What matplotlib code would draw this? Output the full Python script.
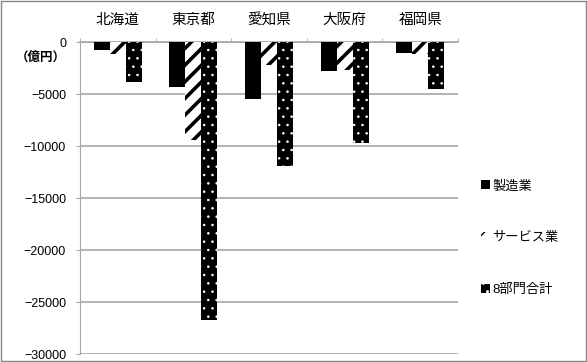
import numpy as np
import matplotlib
matplotlib.use('Agg')
import matplotlib.pyplot as plt
from matplotlib.patches import Rectangle

plt.rcParams['font.family'] = ['Liberation Sans', 'Noto Sans CJK JP']

# data (億円)
prefs = ['北海道', '東京都', '愛知県', '大阪府', '福岡県']
series_names = ['製造業', 'サービス業', '8部門合計']
manufacturing = [-700, -4300, -5450, -2700, -1000]
services = [-1150, -9400, -2200, -2650, -1150]
total8 = [-3850, -26700, -11900, -9700, -4450]

fig = plt.figure(figsize=(5.87, 3.62), dpi=100)
ax = fig.add_axes([80/587, 1 - 354/362, 378/587, (354 - 42.5)/362])

x = np.arange(len(prefs))
w = 0.212
ax.bar(x - w, manufacturing, w, color='black', linewidth=0, label=series_names[0], zorder=3)
with plt.rc_context({'hatch.linewidth': 2.6}):
    b2 = ax.bar(x, services, w, color='white', edgecolor='black', hatch='//', linewidth=0,
                label=series_names[1], zorder=3)
with plt.rc_context({'hatch.linewidth': 0.6}):
    b3 = ax.bar(x + w, total8, w, color='black', edgecolor='white', hatch='..', linewidth=0,
                label=series_names[2], zorder=3)
for p in b2:
    if hasattr(p, 'set_hatch_linewidth'):
        p.set_hatch_linewidth(2.6)
for p in b3:
    if hasattr(p, 'set_hatch_linewidth'):
        p.set_hatch_linewidth(0.6)

ax.set_xlim(-0.5, len(prefs) - 0.5)
ax.set_ylim(-30000, 0)
ax.set_yticks(np.arange(-30000, 1, 5000))
ax.yaxis.grid(True, color='#a6a6a6', linewidth=1.2, zorder=0)

gray = '#a6a6a6'
ax.spines['right'].set_visible(False)
ax.spines['bottom'].set_visible(False)
ax.spines['left'].set_color(gray)
ax.spines['top'].set_color(gray)
ax.spines['top'].set_linewidth(1.2)

# categories along the top
ax.xaxis.tick_top()
ax.set_xticks(x)
ax.set_xticklabels(prefs)
ax.set_xticks(np.arange(-0.5, len(prefs), 1), minor=True)
ax.tick_params(axis='x', which='major', length=0, pad=11, labelsize=10.5)
ax.tick_params(axis='x', which='minor', length=3, color=gray, direction='out')
ax.tick_params(axis='y', length=3, color=gray, pad=7, labelsize=9)

fig.text(66/587, 1 - 58/362, '（億円）', ha='right', va='center',
         fontsize=9, fontweight='bold')

leg = ax.legend(loc='center left', bbox_to_anchor=(474/587, 1 - 238/362),
                bbox_transform=fig.transFigure, frameon=False, fontsize=9.5,
                handlelength=0.7, handleheight=0.7, handletextpad=0.2,
                labelspacing=3.0, borderpad=0)

fig.patches.append(Rectangle((0.001, 0.002), 0.997, 0.996, transform=fig.transFigure,
                             fill=False, edgecolor='#868686', linewidth=1))

plt.savefig('out.png', dpi=100)
